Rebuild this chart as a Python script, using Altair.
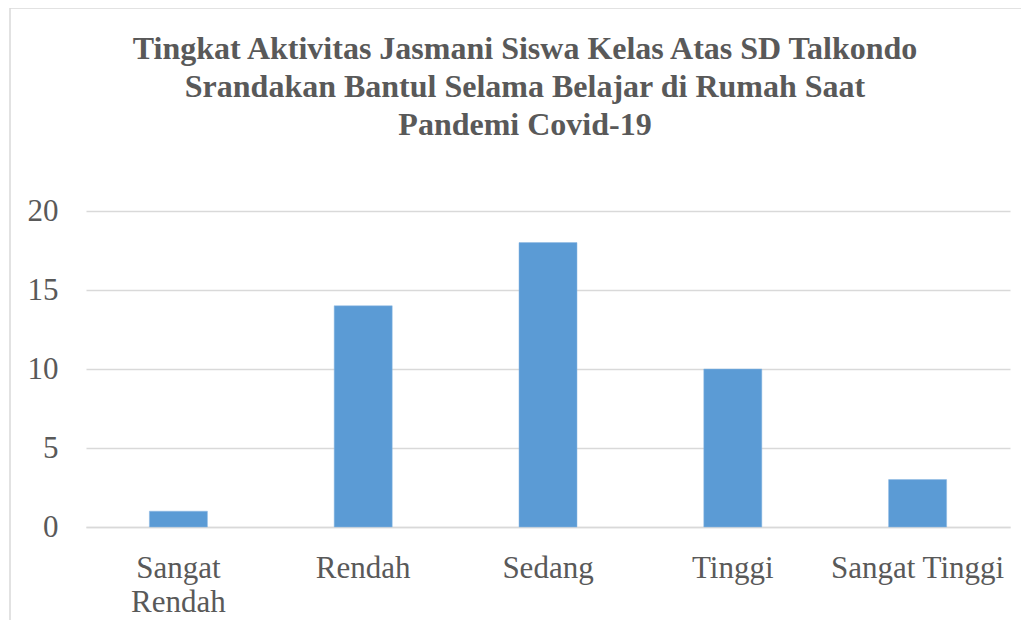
import altair as alt
import pandas as pd

categories = ["Sangat Rendah", "Rendah", "Sedang", "Tinggi", "Sangat Tinggi"]
values = [1, 14, 18, 10, 3]
title_lines = [
    "Tingkat Aktivitas Jasmani Siswa Kelas Atas SD Talkondo",
    "Srandakan Bantul Selama Belajar di Rumah Saat",
    "Pandemi Covid-19",
]

df = pd.DataFrame({"kategori": categories, "jumlah": values})

TEXT = "#595959"
GRID = "#D9D9D9"
FONT = "Liberation Serif"

bars = alt.Chart(df).mark_bar(color="#5B9BD5", stroke="#8DB8E3", strokeWidth=0.5).encode(
    x=alt.X(
        "kategori:N",
        sort=categories,
        title=None,
        scale=alt.Scale(paddingInner=0.686, paddingOuter=0.343),
        axis=alt.Axis(
            labelAngle=0,
            labelFont=FONT,
            labelFontSize=31,
            labelColor=TEXT,
            labelPadding=26,
            labelLimit=400,
            labelLineHeight=34,
            labelExpr="datum.label == 'Sangat Rendah' ? ['Sangat', 'Rendah'] : datum.label",
            ticks=False,
            domainColor=GRID,
            domainWidth=1.5,
            grid=False,
        ),
    ),
    y=alt.Y(
        "jumlah:Q",
        title=None,
        scale=alt.Scale(domain=[0, 20]),
        axis=alt.Axis(
            values=[0, 5, 10, 15, 20],
            labelFont=FONT,
            labelFontSize=31,
            labelColor=TEXT,
            labelPadding=28,
            ticks=False,
            domain=False,
            gridColor=GRID,
            gridWidth=1.5,
        ),
    ),
)

border = alt.Chart(pd.DataFrame({"b": [0]})).mark_rect(
    fill=None, stroke=GRID, strokeWidth=1.5, clip=False
).encode(
    x=alt.value(-76), x2=alt.value(1100), y=alt.value(-203), y2=alt.value(600)
)

title = alt.Chart(pd.DataFrame({"t": [0]})).mark_text(
    text=title_lines,
    font=FONT,
    fontSize=32,
    fontWeight="bold",
    color=TEXT,
    lineHeight=38,
    align="center",
    baseline="top",
).encode(x=alt.value(439), y=alt.value(-177))

chart = alt.layer(border, bars, title).properties(
    width=924,
    height=316,
    autosize=alt.AutoSizeParams(type="none"),
    padding={"left": 78, "top": 203, "right": 11, "bottom": 93},
).configure_view(stroke=None)

chart.save("out.html", embed_options={"renderer": "svg", "actions": False})
